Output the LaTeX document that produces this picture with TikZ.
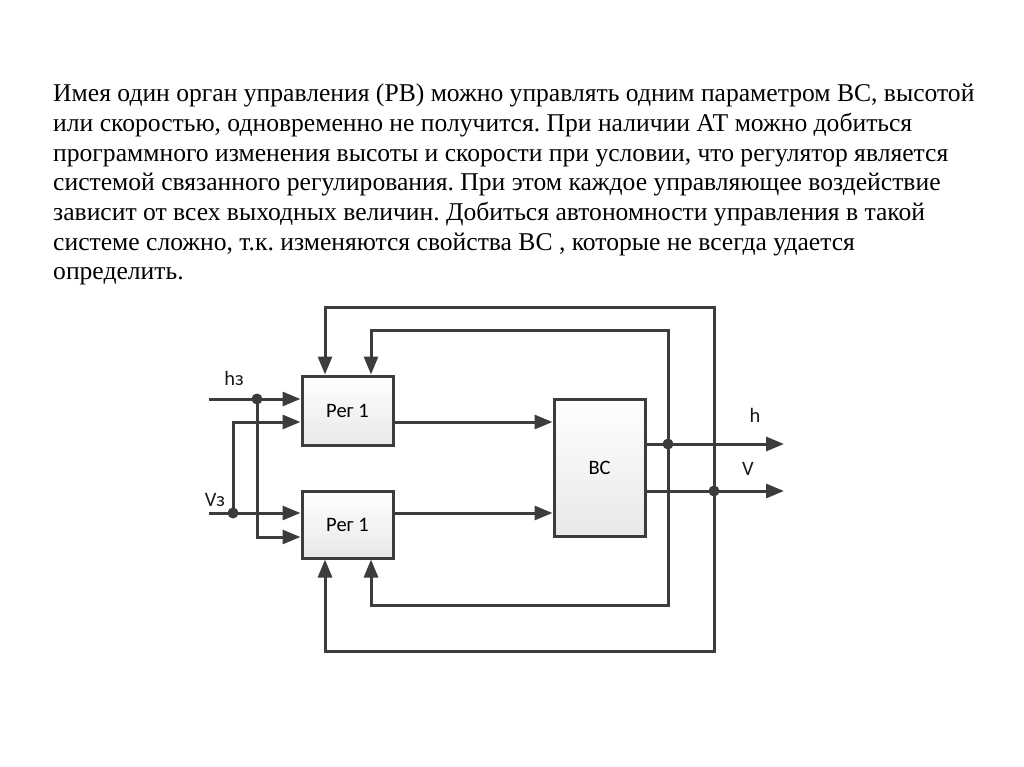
\documentclass[tikz,border=0pt]{standalone}
\usepackage{fontspec}
\setmainfont{Liberation Serif}
\newfontfamily\diafont{Carlito}
\usetikzlibrary{arrows.meta,calc}
\definecolor{wire}{RGB}{60,60,60}
\frenchspacing
\tikzset{
  x=1pt,y=-1pt,
  para/.style={anchor=base west,inner sep=0pt,font=\fontsize{25.6}{30}\selectfont},
  regbox/.style={draw=wire,line width=3pt,top color=white,bottom color=black!9,minimum width=91pt,minimum height=#1,inner sep=0pt,font=\diafont\fontsize{20.5}{24}\selectfont},
  wireline/.style={draw=wire,line width=3pt},
  arr/.style={wireline,-{Triangle[length=18pt,width=14pt]}},
  junction/.style={circle,fill=wire,inner sep=0pt,minimum size=11pt},
  lbl/.style={inner sep=0pt,font=\diafont\fontsize{20.5}{24}\selectfont,text=black!90}
}
\begin{document}
\begin{tikzpicture}
\useasboundingbox (0,0) rectangle (1024,767);
% paragraph
\node[para] (l1) at (53,102) {Имея один орган управления (РВ) можно управлять одним параметром ВС, высотой};
\node[para] (l2) at (53,131.6) {или скоростью, одновременно не получится. При наличии АТ можно добиться};
\node[para] (l3) at (53,161.2) {программного изменения высоты и скорости при условии, что регулятор является};
\node[para] (l4) at (53,190.8) {системой связанного регулирования. При этом каждое управляющее воздействие};
\node[para] (l5) at (53,220.4) {зависит от всех выходных величин. Добиться автономности управления в такой};
\node[para] (l6) at (53,250) {системе сложно, т.к. изменяются свойства ВС , которые не всегда удается};
\node[para] (l7) at (53,279.6) {определить.};
% boxes
\node[regbox=69pt] (T) at (347.5,410.5) {Рег 1};
\node[regbox=67pt] (B) at (347.5,524.5) {Рег 1};
\node[regbox=137pt] (BC) at (599.5,467.5) {ВС};
% coordinates
\coordinate (hin) at (209,399);
\coordinate (vin) at (209,513);
\coordinate (d1) at (257,399);
\coordinate (d2) at (233,513);
\coordinate (d3) at (668,444);
\coordinate (d4) at (714,491);
\coordinate (hout) at (784,444);
\coordinate (vout) at (784,491);
% inputs
\draw[arr] (hin) -- (T.west |- hin);
\draw[arr] (vin) -- (B.west |- vin);
\draw[arr] (d1) |- (B.west |- 0,537);
\draw[arr] (d2) |- (T.west |- 0,422);
% between boxes
\draw[arr] (T.east |- 0,422) -- (BC.west |- 0,422);
\draw[arr] (B.east |- 0,513) -- (BC.west |- 0,513);
% outputs
\draw[arr] (BC.east |- hout) -- (hout);
\draw[arr] (BC.east |- vout) -- (vout);
% feedback
\draw[arr] (d3) |- (371,330) -- (T.north -| 371,0);
\draw[arr] (d3) |- (371,605) -- (B.south -| 371,0);
\draw[arr] (d4) |- (325,307) -- (T.north -| 325,0);
\draw[arr] (d4) |- (325,651) -- (B.south -| 325,0);
% junctions
\node[junction] (j1) at (d1) {};
\node[junction] (j2) at (d2) {};
\node[junction] (j3) at (d3) {};
\node[junction] (j4) at (d4) {};
% labels
\node[lbl] (lh) at (234,378) {hз};
\node[lbl] (lv) at (215,500) {Vз};
\node[lbl] (lho) at (755,415) {h};
\node[lbl] (lvo) at (748,469) {V};
\end{tikzpicture}
\end{document}
